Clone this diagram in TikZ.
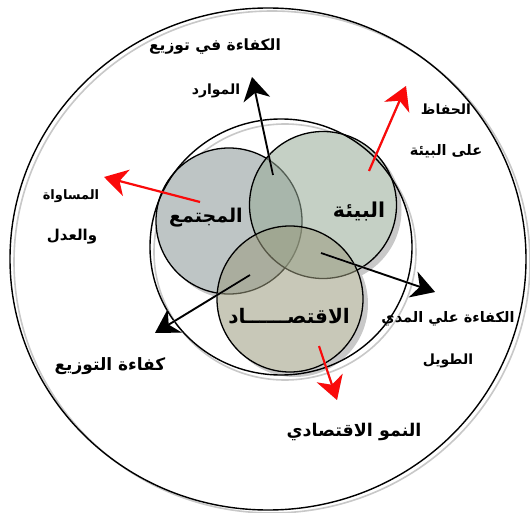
\documentclass[tikz,border=0pt]{standalone}
\usepackage{fontspec}
\usetikzlibrary{arrows.meta}
\newfontfamily\arabicfont[Script=Arabic]{DejaVu Sans}
\TeXXeTstate=1
\newcommand\artext[1]{\beginR #1\endR}
\definecolor{socfill}{RGB}{137,150,151}
\definecolor{envfill}{RGB}{150,170,151}
\definecolor{ecofill}{RGB}{155,155,126}
\definecolor{shadowgray}{RGB}{200,200,200}
\definecolor{arrowred}{RGB}{250,10,10}
\begin{document}
\begin{tikzpicture}[x=1pt,y=-1pt,
  ring/.style={draw=black,line width=1.4pt},
  ringshade/.style={draw=shadowgray,line width=1.6pt},
  disc/.style={draw=black,line width=1.3pt,fill opacity=0.55},
  discshade/.style={fill=shadowgray},
  tipbig/.style={-{Stealth[length=23pt,width=27pt,inset=7pt]}},
  blackarrow/.style={tipbig,draw=black,fill=black,line width=1.8pt},
  redarrow/.style={tipbig,draw=arrowred,fill=arrowred,line width=2.2pt},
  arrowshade/.style={tipbig,draw=shadowgray,fill=shadowgray,line width=2pt},
  lbl/.style={font=\arabicfont\bfseries\fontsize{#1}{#1}\selectfont,inner sep=0pt},
  lbl/.default=14,
  title/.style={font=\arabicfont\bfseries\fontsize{#1}{#1}\selectfont,inner sep=0pt},
  title/.default=20]
\useasboundingbox (0,0) rectangle (530,513);
\fill[white] (0,0) rectangle (530,513);

% outer and inner rings with their soft shadows
\draw[ringshade] (272,262) ellipse [x radius=258pt, y radius=251pt];
\draw[ring] (268,259) ellipse [x radius=258pt, y radius=251pt];
\draw[ringshade] (285,252) ellipse [x radius=131pt, y radius=128pt];

% shadows of the three discs
\fill[discshade] (234,226) circle [radius=73pt];
\fill[discshade] (328,210) circle [radius=73.5pt];
\fill[discshade] (295,304) circle [radius=73pt];
\fill[white] (229,221) circle [radius=73pt];
\fill[white] (323,205) circle [radius=73.5pt];
\fill[white] (290,299) circle [radius=73pt];

% the three discs
\draw[disc,fill=socfill] (229,221) circle [radius=73pt];
\draw[disc,fill=envfill] (323,205) circle [radius=73.5pt];
\draw[disc,fill=ecofill] (290,299) circle [radius=73pt];

\draw[ring] (281,247) ellipse [x radius=131pt, y radius=128pt];

% disc titles
\node[title=19] (soc) at (206,218) {\artext{المجتمع}};
\node[title=20.5] (env) at (359,211) {\artext{البيئة}};
\node[title=20] (eco) at (289,316) {\artext{الاقتصــــــاد}};

% arrow end points
\coordinate (a1s) at (273,175); \coordinate (a1e) at (252,77);
\coordinate (a2s) at (369,171); \coordinate (a2e) at (406,86);
\coordinate (a3s) at (200,202); \coordinate (a3e) at (104,177);
\coordinate (a4s) at (321,253); \coordinate (a4e) at (435,292);
\coordinate (a5s) at (250,275); \coordinate (a5e) at (155,333);
\coordinate (a6s) at (319,346); \coordinate (a6e) at (337,400);

% arrow shadows
\begin{scope}[shift={(5,3)}]
  \draw[arrowshade] (a1s) -- (a1e);
  \draw[arrowshade] (a2s) -- (a2e);
  \draw[arrowshade] (a4s) -- (a4e);
  \draw[arrowshade] (a5s) -- (a5e);
  \draw[arrowshade] (a6s) -- (a6e);
\end{scope}

% arrows
\draw[blackarrow] (a1s) -- (a1e);
\draw[redarrow] (a2s) -- (a2e);
\draw[redarrow] (a3s) -- (a3e);
\draw[blackarrow] (a4s) -- (a4e);
\draw[blackarrow] (a5s) -- (a5e);
\draw[redarrow] (a6s) -- (a6e);

% outcome labels
\node[lbl=15.5] (t1) at (215,47) {\artext{الكفاءة في توزيع}};
\node[lbl=14] (t2) at (216,91) {\artext{الموارد}};
\node[lbl=14] (t3) at (446,109) {\artext{الحفاظ}};
\node[lbl=14.5] (t4) at (446,151) {\artext{على البيئة}};
\node[lbl=13] (t5) at (71,196) {\artext{المساواة}};
\node[lbl=15] (t6) at (72,237) {\artext{والعدل}};
\node[lbl=14.5] (t7) at (448,319) {\artext{الكفاءة علي المدي}};
\node[lbl=14] (t8) at (448,361) {\artext{الطويل}};
\node[lbl=17] (t9) at (110,366) {\artext{كفاءة التوزيع}};
\node[lbl=17.5] (t10) at (354,432) {\artext{النمو الاقتصادي}};
\end{tikzpicture}
\end{document}
